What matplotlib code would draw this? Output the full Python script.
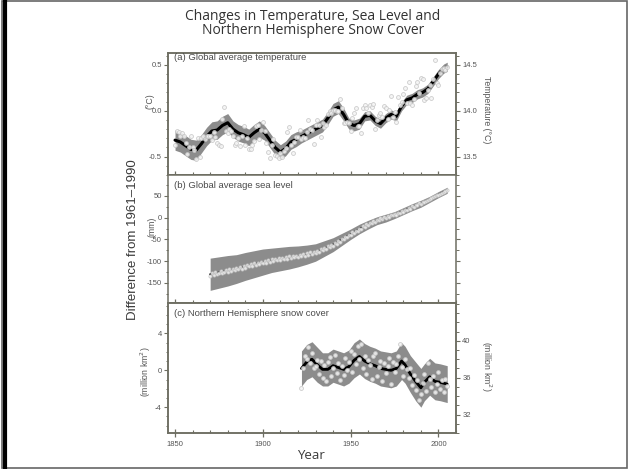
import numpy as np
import matplotlib
matplotlib.use('agg')
import matplotlib.pyplot as plt
from matplotlib.ticker import MultipleLocator, FixedLocator
from matplotlib.patches import Rectangle
from matplotlib.lines import Line2D

plt.rcParams['axes.unicode_minus'] = False

# (a) global average temperature, anomaly from 1961-1990 (deg C)
temp_years = list(range(1850, 2006))
temp_annual = [
    -0.37, -0.22, -0.23, -0.27, -0.24, -0.27, -0.35, -0.47, -0.39, -0.28,
    -0.39, -0.43, -0.53, -0.30, -0.50, -0.30, -0.27, -0.31, -0.27, -0.27,
    -0.27, -0.32, -0.23, -0.29, -0.35, -0.37, -0.38, -0.09, 0.04, -0.22,
    -0.24, -0.20, -0.22, -0.28, -0.37, -0.35, -0.30, -0.38, -0.28, -0.17,
    -0.37, -0.30, -0.42, -0.42, -0.37, -0.33, -0.17, -0.16, -0.31, -0.21,
    -0.12, -0.22, -0.35, -0.45, -0.51, -0.37, -0.31, -0.48, -0.49, -0.51,
    -0.46, -0.50, -0.44, -0.41, -0.23, -0.18, -0.37, -0.46, -0.34, -0.29,
    -0.29, -0.21, -0.31, -0.29, -0.30, -0.23, -0.10, -0.20, -0.21, -0.36,
    -0.16, -0.10, -0.16, -0.29, -0.13, -0.18, -0.15, -0.03, 0.00, -0.02,
    0.01, 0.01, 0.00, 0.00, 0.13, 0.03, -0.13, -0.13, -0.12, -0.13,
    -0.22, -0.08, -0.02, 0.03, -0.17, -0.17, -0.24, 0.03, 0.06, 0.03,
    -0.02, 0.06, 0.04, 0.07, -0.20, -0.10, -0.05, -0.02, -0.07, 0.05,
    0.03, -0.09, 0.01, 0.16, -0.07, -0.01, -0.12, 0.15, 0.06, 0.10,
    0.18, 0.25, 0.09, 0.31, 0.08, 0.06, 0.13, 0.27, 0.31, 0.19,
    0.36, 0.35, 0.12, 0.14, 0.23, 0.28, 0.14, 0.35, 0.55, 0.30,
    0.28, 0.41, 0.46, 0.47, 0.45, 0.48]
temp_s_years = [1850, 1853, 1856, 1859, 1862, 1865, 1868, 1871, 1874, 1877,
                1880, 1883, 1886, 1889, 1892, 1895, 1898, 1901, 1904, 1907,
                1910, 1913, 1916, 1919, 1922, 1925, 1928, 1931, 1934, 1937,
                1940, 1943, 1946, 1949, 1952, 1955, 1958, 1961, 1964, 1967,
                1970, 1973, 1976, 1979, 1982, 1985, 1988, 1991, 1994, 1997,
                2000, 2003, 2005]
temp_smooth = [-0.32, -0.34, -0.38, -0.42, -0.43, -0.36, -0.28, -0.22, -0.21, -0.16,
               -0.13, -0.20, -0.24, -0.26, -0.29, -0.24, -0.20, -0.24, -0.32, -0.40,
               -0.45, -0.41, -0.34, -0.31, -0.28, -0.25, -0.22, -0.19, -0.16, -0.08,
               0.01, 0.04, -0.04, -0.14, -0.16, -0.14, -0.06, -0.05, -0.11, -0.14,
               -0.08, -0.04, -0.06, 0.05, 0.12, 0.14, 0.18, 0.20, 0.24, 0.32,
               0.40, 0.46, 0.48]
temp_halfw = [0.11, 0.11, 0.11, 0.11, 0.11, 0.10, 0.10, 0.10, 0.10, 0.10,
              0.10, 0.09, 0.09, 0.09, 0.09, 0.09, 0.09, 0.08, 0.08, 0.08,
              0.08, 0.08, 0.08, 0.08, 0.07, 0.07, 0.07, 0.07, 0.07, 0.07,
              0.07, 0.07, 0.07, 0.06, 0.06, 0.06, 0.05, 0.05, 0.05, 0.05,
              0.05, 0.05, 0.05, 0.05, 0.05, 0.05, 0.05, 0.05, 0.05, 0.05,
              0.05, 0.05, 0.05]

# (b) global average sea level, difference from 1961-1990 (mm)
sea_years = list(range(1870, 2006))
sea_annual = [
    -134, -128, -131, -125, -130, -126, -122, -128, -124, -120,
    -125, -119, -122, -117, -121, -115, -119, -113, -117, -112,
    -115, -109, -112, -106, -110, -104, -108, -103, -106, -101,
    -105, -99, -103, -97, -101, -96, -100, -94, -98, -93,
    -97, -92, -95, -90, -94, -89, -93, -88, -91, -87,
    -90, -85, -89, -84, -87, -82, -86, -80, -83, -78,
    -81, -76, -78, -72, -75, -69, -71, -66, -68, -62,
    -64, -58, -60, -54, -55, -49, -50, -44, -45, -39,
    -40, -34, -36, -30, -30, -25, -26, -20, -21, -15,
    -17, -12, -13, -8, -9, -5, -6, -1, -3, 1,
    -1, 3, 2, 6, 5, 8, 7, 11, 11, 15,
    14, 18, 18, 22, 21, 26, 25, 29, 29, 33,
    32, 35, 37, 39, 41, 43, 45, 47, 49, 52,
    53, 55, 57, 59, 61, 63]
sea_s_years = [1870, 1875, 1880, 1885, 1890, 1895, 1900, 1905, 1910, 1915,
               1920, 1925, 1930, 1935, 1940, 1945, 1950, 1955, 1960, 1965,
               1970, 1975, 1980, 1985, 1990, 1995, 2000, 2005]
sea_smooth = [-130, -126, -122, -118, -112, -107, -102, -98, -95, -92,
              -89, -85, -80, -71, -62, -50, -38, -26, -16, -7,
              -1, 6, 15, 24, 32, 42, 53, 63]
sea_halfw = [37, 36, 35, 33, 32, 31, 30, 28, 27, 26,
             24, 22, 20, 18, 16, 14, 12, 11, 10, 9,
             9, 8, 8, 8, 8, 7, 7, 7]

# (c) northern hemisphere snow cover (million km2), anomaly and absolute offset
snow_years = list(range(1922, 2006))
snow_annual = [
    -1.9, 0.3, 1.6, 1.2, 2.5, 0.8, 1.9, 0.2, 0.5, 1.1,
    -0.4, 1.0, -0.8, 0.6, -1.2, 0.9, 1.4, -0.6, 0.2, 1.7,
    -0.3, 0.8, -1.0, 0.5, -0.5, 1.3, 0.0, 0.9, 2.1, -0.2,
    1.8, 0.7, 2.6, 1.2, 2.9, 0.3, 1.6, -0.4, 1.1, 0.6,
    -0.9, 1.5, 1.9, -0.6, 0.4, 1.0, -1.2, 0.8, -0.3, 0.5,
    1.3, -1.5, 0.9, -0.2, 0.7, 1.6, 2.8, 0.4, -0.6, 1.2,
    0.1, -0.8, 0.3, -1.6, -0.5, -2.1, -1.0, -3.2, -2.6, -1.4,
    -0.4, -2.2, 0.8, -0.9, -1.8, -0.6, -2.3, -1.5, -0.2, -2.0,
    -1.1, -2.4, -0.9, -1.7]
snow_s_years = [1922, 1925, 1928, 1931, 1934, 1937, 1940, 1943, 1946, 1949,
                1952, 1955, 1958, 1961, 1964, 1967, 1970, 1973, 1976, 1979,
                1981, 1984, 1987, 1990, 1992, 1995, 1998, 2001, 2005]
snow_smooth = [0.2, 0.9, 1.2, 0.6, 0.1, 0.1, 0.5, 0.3, 0.1, 0.4,
               1.1, 1.5, 1.0, 0.7, 0.5, 0.2, 0.1, 0.0, 0.2, 1.0,
               0.6, -0.4, -1.2, -1.9, -1.3, -0.7, -1.2, -1.3, -1.5]
snow_halfw = [1.9, 1.9, 1.9, 1.9, 1.8, 1.8, 1.8, 1.8, 1.8, 1.8,
              1.9, 1.9, 1.9, 1.9, 1.9, 1.9, 1.9, 1.9, 1.9, 2.0,
              2.0, 2.0, 2.1, 2.1, 2.0, 2.0, 2.0, 2.0, 2.0]
temp_base = 14.0
snow_base = 36.8

band_col = '#8c8c8c'
spine_col = '#6e6e62'
text_col = '#4a4a4a'
tick_font = dict(family=['Liberation Sans', 'DejaVu Sans'], size=5.5, color='#555555')

fig = plt.figure(figsize=(6.29, 4.69), dpi=100)
W, H = 629.0, 469.0
x0, x1 = 168, 456

def make_ax(top, bot):
    return fig.add_axes([x0 / W, 1 - bot / H, (x1 - x0) / W, (bot - top) / H])

def style(ax, ymaj, ymin, xlabels):
    ax.set_xlim(1846, 2010)
    ax.xaxis.set_major_locator(FixedLocator([1850, 1900, 1950, 2000]))
    ax.xaxis.set_minor_locator(MultipleLocator(10))
    ax.yaxis.set_major_locator(MultipleLocator(ymaj))
    ax.yaxis.set_minor_locator(MultipleLocator(ymin))
    for s in ax.spines.values():
        s.set_color(spine_col)
        s.set_linewidth(1.1)
    ax.tick_params(axis='x', which='major', direction='inout', length=6, width=0.9,
                   color=spine_col, top=False, labelbottom=xlabels, pad=3)
    ax.tick_params(axis='x', which='minor', direction='in', length=2.5, width=0.8,
                   color=spine_col)
    ax.tick_params(axis='y', which='major', direction='out', length=3, width=0.8,
                   color=spine_col, pad=1.5)
    ax.tick_params(axis='y', which='minor', direction='out', length=1.8, width=0.7,
                   color=spine_col)
    for lab in ax.get_xticklabels() + ax.get_yticklabels():
        lab.set(**tick_font)

def draw(ax, yrs, ann, s_yrs, smooth, halfw, lw=2.0, ms=2.8):
    sm = np.array(smooth)
    hw = np.array(halfw)
    ax.fill_between(s_yrs, sm - hw, sm + hw, color=band_col, lw=0, zorder=1)
    ax.plot(s_yrs, sm, color='black', lw=lw, zorder=2, solid_capstyle='round')
    ax.plot(yrs, ann, 'o', ms=ms, mfc='#f4f4f4', mec='#c4c4c4', mew=0.6,
            alpha=0.85, zorder=3)

# panel (a)
ax1 = make_ax(53, 175)
draw(ax1, temp_years, temp_annual, temp_s_years, temp_smooth, temp_halfw, lw=2.2, ms=2.8)
ax1.set_ylim(-0.70, 0.63)
ax1.set_yticks([-0.5, 0.0, 0.5])
ax1.set_yticklabels(['-0.5', '0.0', '0.5'])
style(ax1, 0.5, 0.1, False)
ax1r = ax1.twinx()
ax1r.set_ylim(-0.70 + temp_base, 0.63 + temp_base)
ax1r.yaxis.set_major_locator(FixedLocator([13.5, 14.0, 14.5]))
ax1r.yaxis.set_minor_locator(MultipleLocator(0.1))
ax1r.set_yticklabels(['13.5', '14.0', '14.5'])
ax1r.tick_params(which='major', direction='out', length=3, width=0.8, color=spine_col, pad=1.5)
ax1r.tick_params(which='minor', direction='out', length=1.8, width=0.7, color=spine_col)
for lab in ax1r.get_yticklabels():
    lab.set(**tick_font)
for s in ax1r.spines.values():
    s.set_color(spine_col)
    s.set_linewidth(1.1)

# panel (b)
ax2 = make_ax(175, 303)
draw(ax2, sea_years, sea_annual, sea_s_years, sea_smooth, sea_halfw, lw=1.4, ms=2.3)
ax2.set_ylim(-196, 98)
ax2.set_yticks([-150, -100, -50, 0, 50])
ax2.set_yticklabels(['-150', '-100', '-50', '0', '50'])
style(ax2, 50, 25, False)
ax2.tick_params(axis='y', which='both', right=True)

# panel (c)
ax3 = make_ax(303, 433)
draw(ax3, snow_years, snow_annual, snow_s_years, snow_smooth, snow_halfw, lw=2.0, ms=2.8)
ax3.set_ylim(-6.8, 7.3)
ax3.set_yticks([-4, 0, 4])
ax3.set_yticklabels(['-4', '0', '4'])
style(ax3, 4, 1, True)
ax3.set_xticklabels(['1850', '1900', '1950', '2000'])
for lab in ax3.get_xticklabels():
    lab.set(**tick_font)
ax3r = ax3.twinx()
ax3r.set_ylim(-6.8 + snow_base, 7.3 + snow_base)
ax3r.yaxis.set_major_locator(FixedLocator([32, 36, 40]))
ax3r.yaxis.set_minor_locator(MultipleLocator(1))
ax3r.set_yticklabels(['32', '36', '40'])
ax3r.tick_params(which='major', direction='out', length=3, width=0.8, color=spine_col, pad=1.5)
ax3r.tick_params(which='minor', direction='out', length=1.8, width=0.7, color=spine_col)
for lab in ax3r.get_yticklabels():
    lab.set(**tick_font)
for s in ax3r.spines.values():
    s.set_color(spine_col)
    s.set_linewidth(1.1)

# panel titles
pan_font = dict(family=['Liberation Sans', 'DejaVu Sans'], size=6.8, color=text_col,
                ha='left', va='center')
fig.text(174 / W, 1 - 57 / H, '(a) Global average temperature', **pan_font)
fig.text(174 / W, 1 - 185 / H, '(b) Global average sea level', **pan_font)
fig.text(174 / W, 1 - 314 / H, '(c) Northern Hemisphere snow cover', **pan_font)

# axis labels
lab_font = dict(family=['Liberation Sans', 'DejaVu Sans'], size=6.3, color='#555555',
                ha='center', va='center')
fig.text(150 / W, 1 - 101 / H, '(°C)', rotation=90, **lab_font)
fig.text(152 / W, 1 - 227 / H, '(mm)', rotation=90, **lab_font)
fig.text(146 / W, 1 - 372 / H, '(million km$^2$)', rotation=90, **lab_font)
fig.text(486 / W, 1 - 110 / H, 'Temperature (°C)', rotation=-90, **lab_font)
fig.text(486 / W, 1 - 366 / H, '(million km$^2$)', rotation=-90, **lab_font)
fig.text(133 / W, 1 - 240 / H, 'Difference from 1961\u20131990', rotation=90,
         family=['Liberation Sans', 'DejaVu Sans'], size=9.5, color='#3a3a3a',
         ha='center', va='center')
fig.text(311 / W, 1 - 455 / H, 'Year', family=['Open Sans', 'DejaVu Sans'], size=9.5,
         color='#3a3a3a', ha='center', va='center')

# title
fig.text(313 / W, 1 - 16 / H, 'Changes in Temperature, Sea Level and',
         family=['Open Sans', 'DejaVu Sans'], size=10, color='#333333',
         ha='center', va='center')
fig.text(313 / W, 1 - 31 / H, 'Northern Hemisphere Snow Cover',
         family=['Open Sans', 'DejaVu Sans'], size=10, color='#333333',
         ha='center', va='center')

# frame round the picture
fig.patches.append(Rectangle((2 / W, 1.5 / H), 625 / W, 466 / H, transform=fig.transFigure,
                             fill=False, edgecolor='#666666', lw=1.2))
fig.lines.append(Line2D([5 / W, 5 / W], [0, 1 - 1 / H], transform=fig.transFigure,
                        color='black', lw=3))

fig.savefig('out.png', dpi=100)
plt.close(fig)
